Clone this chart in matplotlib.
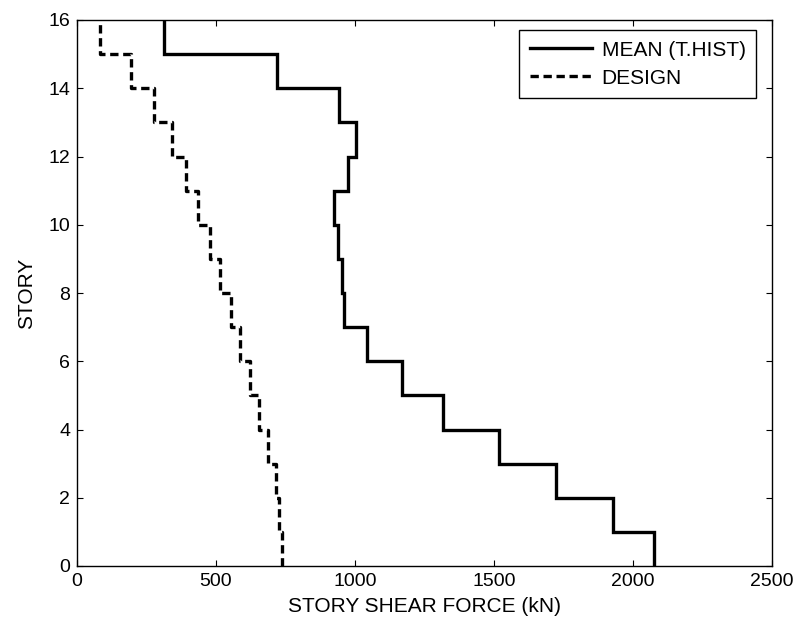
import numpy as np
import matplotlib
matplotlib.use("Agg")
import matplotlib.pyplot as plt

plt.rcParams["font.family"] = ["Liberation Sans", "DejaVu Sans"]

# story shear per story, story 1 (bottom) to story 16 (top)
stories = np.arange(1, 17)
mean_thist = [2077, 1927, 1724, 1518, 1317, 1168, 1042, 960,
              953, 938, 926, 975, 1004, 944, 721, 313]
design = [737, 727, 715, 687, 656, 623, 588, 554,
          513, 477, 437, 392, 342, 276, 196, 82]

xticks = [0, 500, 1000, 1500, 2000, 2500]
yticks = np.arange(0, 17, 2)


def stair(values):
    # vertical step line: value holds from story-1 to story
    y = np.repeat(np.append(0, stories), 2)[1:-1]
    x = np.repeat(values, 2)
    return x, y


fig = plt.figure(figsize=(7.97, 6.23), dpi=100)
ax = fig.add_axes([77 / 797, 57 / 623, 695 / 797, 546 / 623])

x, y = stair(mean_thist)
ax.plot(x, y, color="black", linewidth=2.4, solid_joinstyle="miter",
        label="MEAN (T.HIST)")
x, y = stair(design)
ax.plot(x, y, color="black", linewidth=2.4, dashes=(2.5, 1.4),
        label="DESIGN")

ax.set_xlim(0, 2500)
ax.set_ylim(0, 16)
ax.set_xticks(xticks)
ax.set_yticks(yticks)
ax.tick_params(direction="in", length=4.5, width=0.8, labelsize=14,
               top=True, right=True, pad=5)
for s in ax.spines.values():
    s.set_linewidth(1.0)

ax.set_xlabel("STORY SHEAR FORCE (kN)", fontsize=15, labelpad=5)
ax.set_ylabel("STORY", fontsize=15, labelpad=9)

leg = ax.legend(loc="upper right", bbox_to_anchor=(0.977, 0.981),
                borderaxespad=0, fontsize=15, fancybox=False,
                edgecolor="black", framealpha=1, handlelength=3.0,
                handletextpad=0.45, labelspacing=0.42, borderpad=0.5)
leg.get_frame().set_linewidth(1.0)

fig.savefig("out.png", dpi=100)
plt.close(fig)
